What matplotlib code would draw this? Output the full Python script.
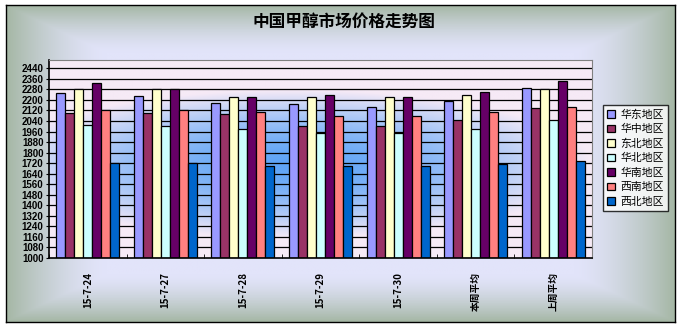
import numpy as np
import matplotlib
matplotlib.use('Agg')
import matplotlib.pyplot as plt
from matplotlib.colors import to_rgb

plt.rcParams['font.family'] = ['Noto Sans CJK SC', 'DejaVu Sans']

# ------------------------------ data
dates = ['15-7-24', '15-7-27', '15-7-28', '15-7-29', '15-7-30', '本周平均', '上周平均']
regions = ['华东地区', '华中地区', '东北地区', '华北地区', '华南地区', '西南地区', '西北地区']
huadong  = [2250, 2230, 2180, 2170, 2150, 2190, 2290]
huazhong = [2100, 2100, 2090, 2000, 2000, 2050, 2140]
dongbei  = [2280, 2280, 2225, 2225, 2225, 2240, 2280]
huabei   = [2010, 2000, 1980, 1950, 1950, 1980, 2045]
huanan   = [2330, 2280, 2225, 2235, 2225, 2260, 2340]
xinan    = [2120, 2120, 2110, 2080, 2080, 2110, 2150]
xibei    = [1720, 1720, 1700, 1700, 1700, 1710, 1740]
series = [huadong, huazhong, dongbei, huabei, huanan, xinan, xibei]
colors = ['#9999FF', '#993366', '#FFFFCC', '#CCFFFF', '#660066', '#FF8080', '#0066CC']
yticks = np.arange(1000, 2441, 80)

W, H = 681, 328
fig = plt.figure(figsize=(W / 100, H / 100), dpi=100)

# ------------------------------ 外框背景
bg = fig.add_axes([6 / W, 1 - 322 / H, 669 / W, 317 / H])
yy, xx = np.mgrid[-1:1:200j, -1:1:400j]
d = np.maximum(np.abs(xx) * 1.0, np.abs(yy) * 1.0)
d = np.clip((d - 0.7) / 0.3, 0, 1) ** 1.5
c_in = np.array(to_rgb('#E2E4FA'))
c_out = np.array(to_rgb('#A5B7A5'))
img = c_in[None, None, :] * (1 - d[..., None]) + c_out[None, None, :] * d[..., None]
bg.imshow(img, aspect='auto', extent=(0, 1, 0, 1))
bg.set_xticks([])
bg.set_yticks([])
for s in bg.spines.values():
    s.set_color('black')
    s.set_linewidth(1)

# ------------------------------ 繪圖區
ax = fig.add_axes([49 / W, 1 - 258 / H, 543 / W, 198 / H])
ymin, ymax = 1000, 2503
yy, xx = np.mgrid[1:-1:200j, -1:1:400j]
r = np.sqrt(((xx + 0.1) / 1.1) ** 2 + ((yy + 0.05) / 0.75) ** 2)
r = np.clip(r, 0, 1) ** 1.6
p_in = np.array(to_rgb('#5FA5F8'))
p_out = np.array(to_rgb('#F6EAF6'))
pimg = p_in[None, None, :] * (1 - r[..., None]) + p_out[None, None, :] * r[..., None]
ax.imshow(pimg, aspect='auto', extent=(-0.5, 6.5, ymin, ymax), zorder=0)

for yv in yticks[1:]:
    ax.axhline(yv, color='black', lw=0.9, zorder=1)

x = np.arange(len(dates))
bw = 0.116
for i, (vals, col) in enumerate(zip(series, colors)):
    ax.bar(x + (i - 3) * bw, np.array(vals) - ymin, bw, bottom=ymin, color=col,
           edgecolor='black', linewidth=0.9, label=regions[i], zorder=2)

ax.set_xlim(-0.5, 6.5)
ax.set_ylim(ymin, ymax)
ax.set_yticks(yticks)
ax.set_yticklabels([str(v) for v in yticks], fontsize=7, fontweight='bold',
                   family=['Liberation Sans', 'DejaVu Sans'])
ax.set_xticks(x)
ax.set_xticklabels(dates, rotation=90, fontsize=7, fontweight='bold')
ax.set_xticks(np.arange(-0.5, 6.6, 1), minor=True)
ax.tick_params(axis='x', which='major', length=0, pad=10)
ax.tick_params(axis='x', which='minor', length=3, direction='in')
ax.tick_params(axis='y', length=2, pad=2)
ax.spines['left'].set_linewidth(1.2)
ax.spines['bottom'].set_linewidth(1.2)
ax.spines['top'].set_color('#808080')
ax.spines['right'].set_color('#808080')

fig.text(344 / W, 1 - 22 / H, '中国甲醇市场价格走势图', ha='center', va='center',
         fontsize=12, fontweight='bold')

leg = fig.legend(loc='upper left', bbox_to_anchor=(603 / W, 1 - 105 / H),
                 fontsize=7.8, frameon=True, fancybox=False, edgecolor='black',
                 handlelength=0.7, handleheight=0.7, handletextpad=0.5,
                 labelspacing=0.4, borderpad=0.4, borderaxespad=0)
leg.get_frame().set_linewidth(1)
leg.get_frame().set_facecolor('white')

fig.savefig('out.png', dpi=100, facecolor='white')
